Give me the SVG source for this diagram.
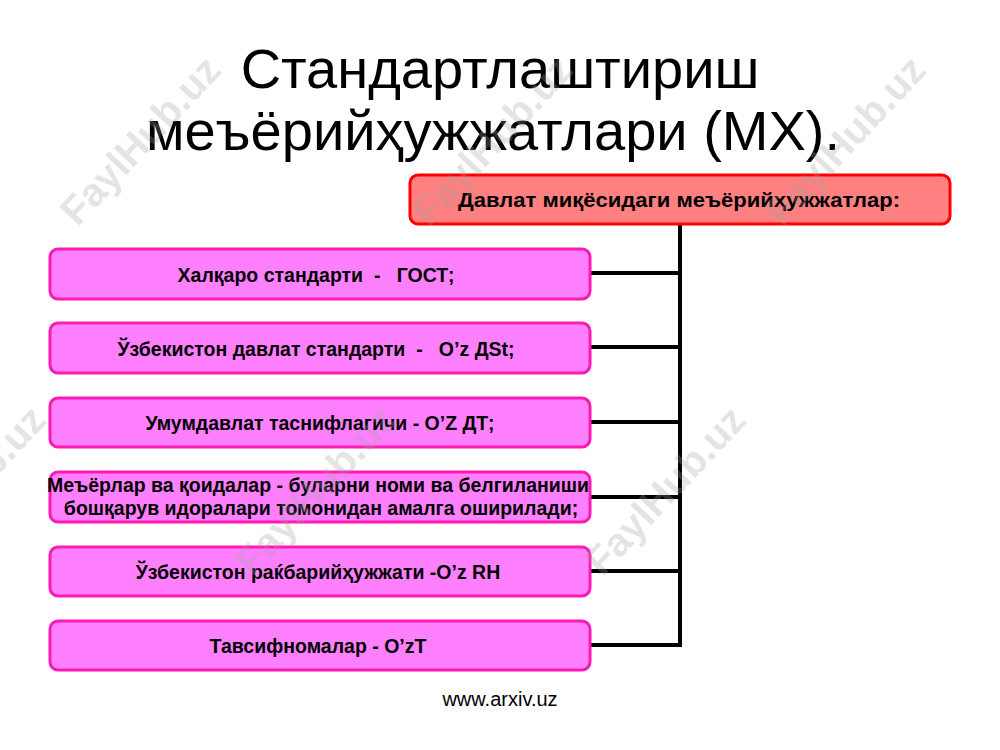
<svg xmlns="http://www.w3.org/2000/svg" width="1000" height="750" viewBox="0 0 1000 750">
<style>
.title{font-family:"Liberation Sans",Arial,sans-serif;font-size:56px;fill:#000;text-anchor:middle}
.lbl{font-family:"Liberation Sans",Arial,sans-serif;font-size:19.5px;font-weight:bold;fill:#000;text-anchor:middle;white-space:pre}
.top{fill:#ff8080;stroke:#ff0000;stroke-width:3}
.box{fill:#ff80ff;stroke:#ff1ab3;stroke-width:3}
.con{stroke:#000;stroke-width:4;fill:none}
.wm{font-family:"Liberation Sans",Arial,sans-serif;font-size:40px;font-weight:bold;fill:#a0a0a0;fill-opacity:0.28;text-anchor:middle}
.foot{font-family:"Liberation Sans",Arial,sans-serif;font-size:20px;fill:#000;text-anchor:middle}
</style>
<rect width="1000" height="750" fill="#ffffff"/>
<g id="title">
<text class="title" x="500" y="88">Стандартлаштириш</text>
<text class="title" x="493" y="150">меъёрийҳужжатлари (МХ).</text>
</g>
<g id="connectors">
<path class="con" d="M680 224 V647"/>
<path class="con" d="M590 273 H680 M590 347 H680 M590 422 H680 M590 497 H680 M590 571 H680 M590 645 H682"/>
</g>
<g id="node-top">
<rect class="top" x="410" y="175" width="540" height="49" rx="8"/>
<text class="lbl" style="font-size:20px" x="679" y="207" textLength="442" lengthAdjust="spacingAndGlyphs">Давлат миқёсидаги меъёрийҳужжатлар:</text>
</g>
<g id="node-1">
<rect class="box" x="50" y="249" width="540" height="50" rx="8"/>
<text class="lbl" x="316" y="282">Халқаро стандарти  -   ГОСТ;</text>
</g>
<g id="node-2">
<rect class="box" x="50" y="323" width="540" height="50" rx="8"/>
<text class="lbl" x="316" y="356">Ўзбекистон давлат стандарти  -   O’z ДSt;</text>
</g>
<g id="node-3">
<rect class="box" x="50" y="398" width="540" height="49" rx="8"/>
<text class="lbl" x="320" y="430">Умумдавлат таснифлагичи - O’Z ДТ;</text>
</g>
<g id="node-4">
<rect class="box" x="50" y="472" width="540" height="50" rx="8"/>
<text class="lbl" x="318" y="492">Меъёрлар ва қоидалар - буларни номи ва белгиланиши</text>
<text class="lbl" x="321" y="515">бошқарув идоралари томонидан амалга оширилади;</text>
</g>
<g id="node-5">
<rect class="box" x="50" y="547" width="540" height="49" rx="8"/>
<text class="lbl" x="318" y="579">Ўзбекистон раќбарийҳужжати -O’z RH</text>
</g>
<g id="node-6">
<rect class="box" x="50" y="621" width="540" height="49" rx="8"/>
<text class="lbl" x="318" y="653">Тавсифномалар - O’zT</text>
</g>
<text class="foot" x="500" y="706">www.arxiv.uz</text>
<g id="watermarks">
<text class="wm" transform="translate(140,140) rotate(-47)" y="14">FaylHub.uz</text>
<text class="wm" transform="translate(492,140) rotate(-47)" y="14">FaylHub.uz</text>
<text class="wm" transform="translate(845,140) rotate(-47)" y="14">FaylHub.uz</text>
<text class="wm" transform="translate(-35,490) rotate(-47)" y="14">FaylHub.uz</text>
<text class="wm" transform="translate(315,490) rotate(-47)" y="14">FaylHub.uz</text>
<text class="wm" transform="translate(665,490) rotate(-47)" y="14">FaylHub.uz</text>
</g>
</svg>
